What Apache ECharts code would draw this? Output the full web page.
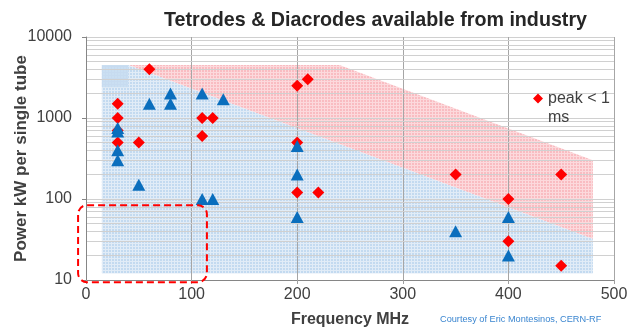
<!DOCTYPE html>
<html>
<head>
<meta charset="utf-8">
<script src="https://cdn.jsdelivr.net/npm/echarts@6/dist/echarts.min.js"></script>
<style>
  html, body { margin: 0; padding: 0; background: #fff; }
  #chart { width: 636px; height: 329px; }
</style>
</head>
<body>
<div id="chart"></div>
<script>
// peak < 1 ms (red diamonds)
const peakFreq  = [30, 30, 30, 30, 50, 60, 110, 120, 110, 200, 210, 200, 200, 220, 350, 400, 400, 450, 450];
const peakPower = [1500, 1000, 700, 500, 500, 4000, 1000, 1000, 600, 2500, 3000, 500, 120, 120, 200, 100, 30, 200, 15];

// other tubes (blue triangles)
const tubeFreq  = [30, 30, 30, 30, 50, 60, 80, 80, 110, 130, 110, 120, 200, 200, 200, 350, 400, 400];
const tubePower = [750, 680, 400, 300, 150, 1500, 2000, 1500, 2000, 1700, 100, 100, 450, 200, 60, 40, 60, 20];

// shaded areas (frequency MHz, power kW)
const blueArea   = [[15, 12], [15, 4500], [40, 4500], [480, 32], [480, 12]];
const pinkArea   = [[40, 4500], [240, 4500], [480, 300], [480, 32]];
const blueSquare = [[15, 2400], [40, 4500]];
const dashedBox  = [[-7.5, 9.4], [114.5, 84]];

const xTicks = [0, 100, 200, 300, 400, 500];
const minorY = [20, 30, 40, 50, 60, 70, 80, 90, 200, 300, 400, 500, 600, 700, 800, 900,
                2000, 3000, 4000, 5000, 6000, 7000, 8000, 9000];

const FONT = 'Liberation Sans, Arial, sans-serif';

// petit motif quadrillé pour imiter le remplissage hachuré
function hatch(base, line, size) {
    const c = document.createElement('canvas');
    c.width = size; c.height = size;
    const g = c.getContext('2d');
    g.fillStyle = base;
    g.fillRect(0, 0, size, size);
    g.fillStyle = line;
    g.fillRect(0, 0, size, 1);
    g.fillRect(0, 0, 1, size);
    return { image: c, repeat: 'repeat' };
}

const bluePattern = hatch('#c3daf0', '#e1ecf7', 3);
const pinkPattern = hatch('#f9bcc1', '#fcd9dc', 3);
const squarePattern = hatch('#d3e4f4', '#a9c7e6', 3);

const chart = echarts.init(document.getElementById('chart'), null, { renderer: 'canvas' });

const option = {
    animation: false,
    textStyle: { fontFamily: FONT },
    title: {
        text: 'Tetrodes & Diacrodes available from industry',
        left: 159,
        top: 6,
        textStyle: { fontFamily: FONT, fontSize: 19.7, fontWeight: 'bold', color: '#262626' }
    },
    legend: {
        data: ['peak < 1 ms'],
        left: 528,
        top: 84,
        itemWidth: 10,
        itemHeight: 29,
        itemGap: 5,
        icon: 'path://M5,0L10,5L5,10L0,5Z M5,29L5.01,29L5,28.99Z',
        formatter: () => 'peak < 1\nms',
        textStyle: { fontFamily: FONT, fontSize: 16, color: '#404040', lineHeight: 19 }
    },
    grid: { left: 86, right: 22, top: 37, bottom: 49, containLabel: false, outerBoundsMode: 'none' },
    xAxis: {
        type: 'value',
        min: xTicks[0],
        max: xTicks[xTicks.length - 1],
        interval: 100,
        name: 'Frequency MHz',
        nameLocation: 'middle',
        nameGap: 32,
        nameMoveOverlap: false,
        nameTextStyle: { fontFamily: FONT, fontSize: 16, fontWeight: 'bold', color: '#404040' },
        axisLine: { lineStyle: { color: '#868686' } },
        axisTick: { show: true, length: 4, lineStyle: { color: '#a0a0a0' } },
        axisLabel: { fontFamily: FONT, fontSize: 16, color: '#404040', margin: 7 },
        splitLine: { show: true, lineStyle: { color: '#a6a6a6' } }
    },
    yAxis: {
        type: 'log',
        logBase: 10,
        min: 10,
        max: 10000,
        name: 'Power kW per single tube',
        nameLocation: 'middle',
        nameRotate: 90,
        nameGap: 56,
        nameMoveOverlap: false,
        nameTextStyle: { fontFamily: FONT, fontSize: 17, fontWeight: 'bold', color: '#404040' },
        axisLine: { show: true, lineStyle: { color: '#868686' } },
        axisTick: { show: true, length: 4, lineStyle: { color: '#868686' } },
        axisLabel: {
            fontFamily: FONT, fontSize: 16, color: '#404040', margin: 14,
            formatter: (v) => String(Math.round(v))
        },
        splitLine: { show: true, lineStyle: { color: '#d0d0d0' } }
    },
    graphic: [{
        type: 'text',
        left: 440,
        top: 315,
        style: { text: 'Courtesy of Eric Montesinos, CERN-RF', fontFamily: FONT, fontSize: 9.2, fill: '#3b86d0' }
    }],
    series: [
        {
            name: 'areas',
            type: 'custom',
            z: -1,
            silent: true,
            data: [0],
            renderItem: function(params, api) {
                const toPts = (arr) => arr.map(p => api.coord(p));
                const s0 = api.coord(blueSquare[0]);
                const s1 = api.coord(blueSquare[1]);
                return {
                    type: 'group',
                    children: [
                        { type: 'polygon', shape: { points: toPts(pinkArea) }, style: { fill: pinkPattern } },
                        { type: 'polygon', shape: { points: toPts(blueArea) }, style: { fill: bluePattern } },
                        {
                            type: 'rect',
                            shape: { x: s0[0], y: s1[1], width: s1[0] - s0[0], height: s0[1] - s1[1] },
                            style: { fill: squarePattern, opacity: 0.45 }
                        }
                    ]
                };
            }
        },
        {
            name: 'minor',
            type: 'line',
            data: [],
            silent: true,
            z: 0,
            markLine: {
                silent: true,
                z: 0,
                symbol: ['none', 'none'],
                label: { show: false },
                lineStyle: { color: '#d0d0d0', type: 'solid', width: 1 },
                data: minorY.map(v => ({ yAxis: v }))
            }
        },
        {
            name: 'peak < 1 ms',
            type: 'scatter',
            symbol: 'diamond',
            symbolSize: [12, 12],
            itemStyle: { color: '#ff0000', opacity: 1 },
            z: 3,
            data: peakFreq.map((f, i) => [f, peakPower[i]])
        },
        {
            name: 'tubes',
            type: 'scatter',
            symbol: 'triangle',
            symbolSize: [13, 12],
            itemStyle: { color: '#0a6ebd', opacity: 1 },
            z: 4,
            data: tubeFreq.map((f, i) => [f, tubePower[i]])
        },
        {
            name: 'box',
            type: 'custom',
            silent: true,
            clip: false,
            z: 5,
            data: [0],
            renderItem: function(params, api) {
                const a = api.coord(dashedBox[0]);
                const b = api.coord(dashedBox[1]);
                return {
                    type: 'rect',
                    shape: { x: a[0], y: b[1], width: b[0] - a[0], height: a[1] - b[1], r: 9 },
                    style: { fill: 'none', stroke: '#ff0000', lineWidth: 2, lineDash: [7, 4] }
                };
            }
        }
    ]
};

chart.setOption(option);
window.addEventListener('resize', chart.resize);
</script>
</body>
</html>
